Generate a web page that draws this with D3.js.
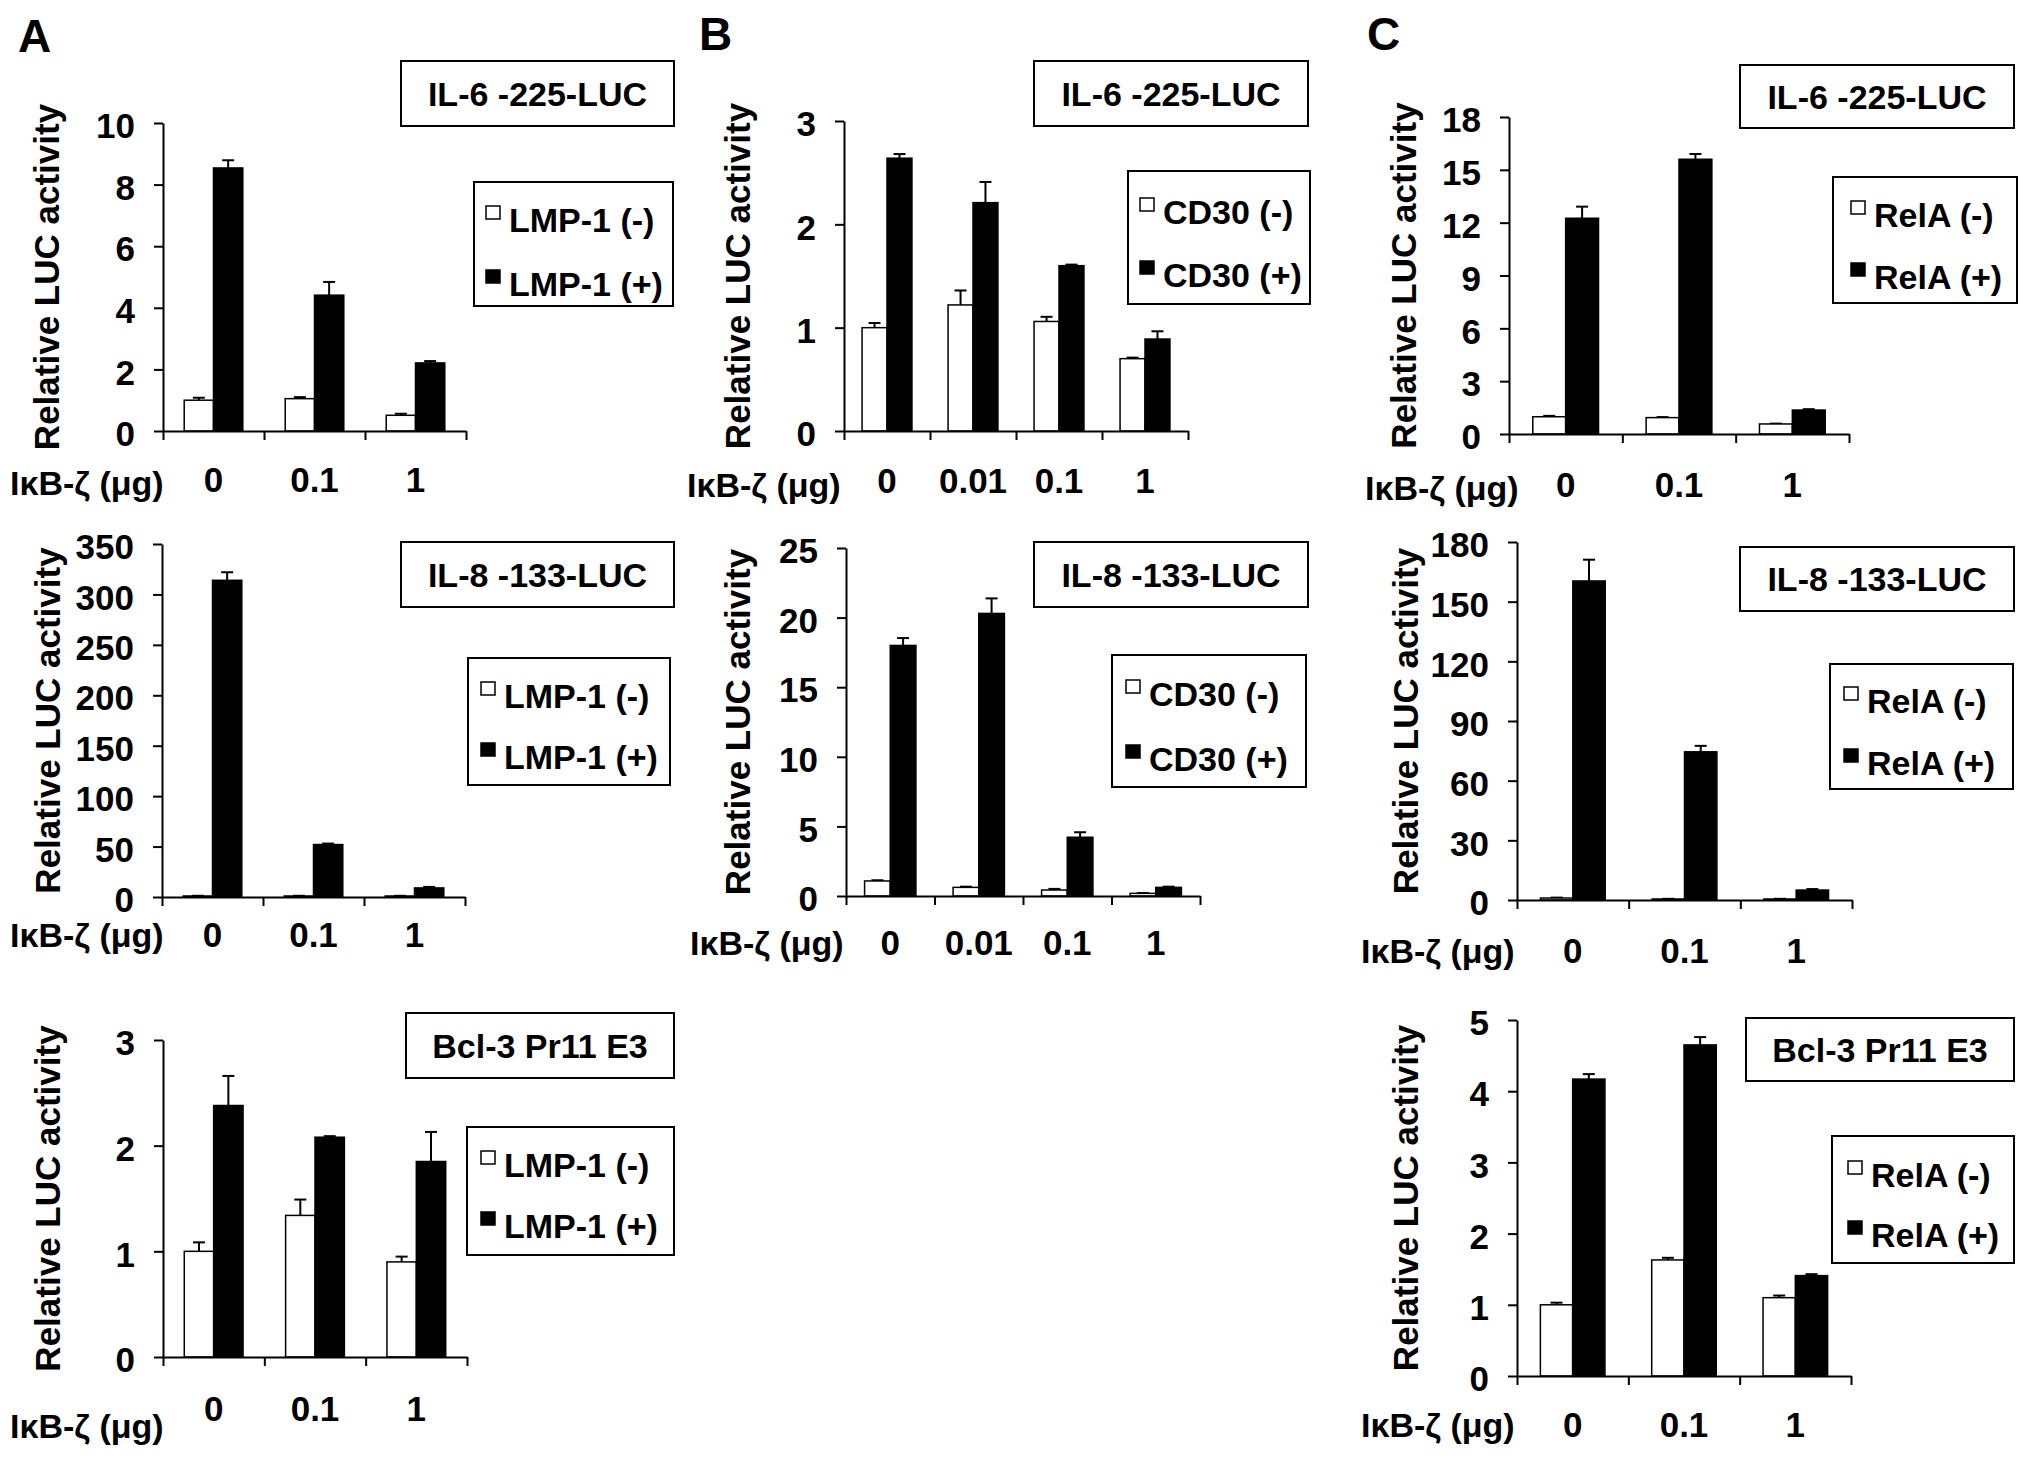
<!DOCTYPE html>
<html>
<head>
<meta charset="utf-8">
<script src="https://cdn.jsdelivr.net/npm/d3@7"></script>
<style>
  html, body { margin: 0; padding: 0; background: #fff; }
  svg { display: block; }
  text { font-family: "Liberation Sans", Arial, Helvetica, sans-serif; font-weight: bold; fill: #000; }
</style>
</head>
<body>
<svg id="fig" width="2031" height="1461"></svg>
<script>
// ---- data ----
const doses3 = ["0", "0.1", "1"];
const doses4 = ["0", "0.01", "0.1", "1"];
const xTitle = "IκB-ζ (μg)";
const yTitle = "Relative LUC activity";

// A: LMP-1
const aIl6Neg = [1.0, 1.05, 0.51],   aIl6NegErr = [0.08, 0.05, 0.05];
const aIl6Pos = [8.54, 4.41, 2.21],  aIl6PosErr = [0.25, 0.43, 0.06];
const aIl8Neg = [1.0, 1.0, 1.0],     aIl8NegErr = [0.2, 0.2, 0.2];
const aIl8Pos = [314, 52, 9],        aIl8PosErr = [8, 1, 1];
const aBclNeg = [1.0, 1.34, 0.90],   aBclNegErr = [0.085, 0.15, 0.05];
const aBclPos = [2.38, 2.08, 1.85],  aBclPosErr = [0.28, 0.01, 0.28];
// B: CD30
const bIl6Neg = [1.0, 1.22, 1.06, 0.70],  bIl6NegErr = [0.045, 0.14, 0.045, 0.01];
const bIl6Pos = [2.64, 2.21, 1.60, 0.89], bIl6PosErr = [0.04, 0.2, 0.01, 0.075];
const bIl8Neg = [1.08, 0.62, 0.43, 0.19], bIl8NegErr = [0.05, 0.05, 0.08, 0.02];
const bIl8Pos = [18.0, 20.3, 4.22, 0.62], bIl8PosErr = [0.53, 1.08, 0.36, 0.05];
// C: RelA
const cIl6Neg = [0.98, 0.93, 0.57],  cIl6NegErr = [0.05, 0.03, 0.02];
const cIl6Pos = [12.25, 15.6, 1.36], cIl6PosErr = [0.66, 0.3, 0.05];
const cIl8Neg = [1.0, 0.5, 0.5],     cIl8NegErr = [0.2, 0.1, 0.1];
const cIl8Pos = [160.4, 74.5, 5],    cIl8PosErr = [10.7, 3, 0.5];
const cBclNeg = [1.0, 1.63, 1.10],   cBclNegErr = [0.03, 0.03, 0.03];
const cBclPos = [4.17, 4.65, 1.41],  cBclPosErr = [0.07, 0.11, 0.02];

// tick labels
const ticksA1 = [0, 2, 4, 6, 8, 10];
const ticksA2 = [0, 50, 100, 150, 200, 250, 300, 350];
const ticks3  = [0, 1, 2, 3];
const ticksB2 = [0, 5, 10, 15, 20, 25];
const ticksC1 = [0, 3, 6, 9, 12, 15, 18];
const ticksC2 = [0, 30, 60, 90, 120, 150, 180];
const ticksC3 = [0, 1, 2, 3, 4, 5];

const panelLetters = [["A", 18, 52], ["B", 699, 50], ["C", 1367, 50]];

// ---- layout ----
const panels = [
  { title: "IL-6 -225-LUC", factor: "LMP-1", doses: doses3, neg: aIl6Neg, negErr: aIl6NegErr, pos: aIl6Pos, posErr: aIl6PosErr, ticks: ticksA1,
    ax: [163, 466], ay: [123, 431], box: [401, 61, 273, 65], leg: [474, 182, 199, 124], legX: 509, legY: [232, 296], yt: 59, lb: 492, xtx: 10, xtb: 495 },
  { title: "IL-8 -133-LUC", factor: "LMP-1", doses: doses3, neg: aIl8Neg, negErr: aIl8NegErr, pos: aIl8Pos, posErr: aIl8PosErr, ticks: ticksA2,
    ax: [162, 465], ay: [544, 897], box: [401, 542, 273, 65], leg: [468, 658, 202, 127], legX: 504, legY: [708, 769], yt: 60, lb: 947, xtx: 10, xtb: 947 },
  { title: "Bcl-3 Pr11 E3", factor: "LMP-1", doses: doses3, neg: aBclNeg, negErr: aBclNegErr, pos: aBclPos, posErr: aBclPosErr, ticks: ticks3,
    ax: [163, 467], ay: [1040, 1357], box: [406, 1013, 268, 65], leg: [467, 1127, 207, 128], legX: 504, legY: [1177, 1238], yt: 60, lb: 1421, xtx: 10, xtb: 1438 },
  { title: "IL-6 -225-LUC", factor: "CD30", doses: doses4, neg: bIl6Neg, negErr: bIl6NegErr, pos: bIl6Pos, posErr: bIl6PosErr, ticks: ticks3,
    ax: [844, 1188], ay: [121, 431], box: [1034, 61, 274, 65], leg: [1128, 171, 182, 133], legX: 1163, legY: [224, 287], yt: 750, lb: 493, xtx: 687, xtb: 497 },
  { title: "IL-8 -133-LUC", factor: "CD30", doses: doses4, neg: bIl8Neg, negErr: bIl8NegErr, pos: bIl8Pos, posErr: bIl8PosErr, ticks: ticksB2,
    ax: [846, 1200], ay: [548, 896], box: [1034, 542, 274, 65], leg: [1112, 655, 194, 132], legX: 1149, legY: [706, 771], yt: 750, lb: 955, xtx: 690, xtb: 955 },
  { title: "IL-6 -225-LUC", factor: "RelA", doses: doses3, neg: cIl6Neg, negErr: cIl6NegErr, pos: cIl6Pos, posErr: cIl6PosErr, ticks: ticksC1,
    ax: [1509, 1849], ay: [117, 434], box: [1740, 65, 274, 63], leg: [1833, 177, 184, 126], legX: 1874, legY: [227, 289], yt: 1416, lb: 497, xtx: 1365, xtb: 500 },
  { title: "IL-8 -133-LUC", factor: "RelA", doses: doses3, neg: cIl8Neg, negErr: cIl8NegErr, pos: cIl8Pos, posErr: cIl8PosErr, ticks: ticksC2,
    ax: [1517, 1852], ay: [542, 900], box: [1740, 547, 274, 64], leg: [1830, 664, 183, 125], legX: 1867, legY: [713, 775], yt: 1418, lb: 963, xtx: 1361, xtb: 963 },
  { title: "Bcl-3 Pr11 E3", factor: "RelA", doses: doses3, neg: cBclNeg, negErr: cBclNegErr, pos: cBclPos, posErr: cBclPosErr, ticks: ticksC3,
    ax: [1517, 1851], ay: [1020, 1376], box: [1746, 1018, 268, 63], leg: [1832, 1136, 182, 127], legX: 1871, legY: [1187, 1247], yt: 1418, lb: 1437, xtx: 1361, xtb: 1437 }
];

const svg = d3.select("#fig");
const FS = 34;
const TICK_FS = 35;

panelLetters.forEach(([t, x, y]) => {
  svg.append("text").attr("x", x).attr("y", y).attr("font-size", 46).text(t);
});

panels.forEach(p => {
  const g = svg.append("g");
  const x = d3.scaleBand().domain(p.doses).range(p.ax).padding(0);
  const bw = x.bandwidth();
  const sub = d3.scaleBand().domain(["neg", "pos"]).range([0.21 * bw, 0.79 * bw]);
  const y = d3.scaleLinear().domain([0, d3.max(p.ticks)]).range([p.ay[1], p.ay[0]]);

  const rows = p.doses.map((d, i) => [
    { dose: d, s: "neg", v: p.neg[i], e: p.negErr[i] },
    { dose: d, s: "pos", v: p.pos[i], e: p.posErr[i] }
  ]).flat();

  // error bars (upper only)
  const eg = g.append("g").attr("stroke", "#000").attr("stroke-width", 2);
  rows.forEach(r => {
    const cx = x(r.dose) + sub(r.s) + sub.bandwidth() / 2;
    eg.append("line").attr("x1", cx).attr("x2", cx).attr("y1", y(r.v)).attr("y2", y(r.v + r.e));
    eg.append("line").attr("x1", cx - 6).attr("x2", cx + 6).attr("y1", y(r.v + r.e)).attr("y2", y(r.v + r.e));
  });

  g.selectAll("rect.bar").data(rows).join("rect")
    .attr("class", "bar")
    .attr("x", r => x(r.dose) + sub(r.s))
    .attr("width", sub.bandwidth())
    .attr("y", r => y(r.v))
    .attr("height", r => y(0) - y(r.v))
    .attr("fill", r => r.s === "neg" ? "#fff" : "#000")
    .attr("stroke", "#000").attr("stroke-width", 1.5);

  // y axis
  const yAxis = g.append("g").attr("transform", `translate(${p.ax[0]},0)`)
    .call(d3.axisLeft(y).tickValues(p.ticks).tickSize(9).tickSizeOuter(0).tickPadding(19).tickFormat(d3.format("d")));
  yAxis.select(".domain").attr("stroke-width", 2);
  yAxis.selectAll(".tick line").attr("stroke-width", 2);
  yAxis.selectAll(".tick text").attr("font-size", TICK_FS).attr("font-family", null).attr("dy", "0.42em");

  // x axis: ticks at group boundaries
  const xb = d3.scaleLinear().domain([0, p.doses.length]).range(p.ax);
  const xAxis = g.append("g").attr("transform", `translate(0,${p.ay[1]})`)
    .call(d3.axisBottom(xb).tickValues(d3.range(p.doses.length + 1)).tickSize(9).tickSizeOuter(0).tickFormat(""));
  xAxis.select(".domain").attr("stroke-width", 2);
  xAxis.selectAll(".tick line").attr("stroke-width", 2);

  // category labels
  g.selectAll("text.cat").data(p.doses).join("text")
    .attr("class", "cat")
    .attr("x", d => x(d) + bw / 2).attr("y", p.lb)
    .attr("text-anchor", "middle").attr("font-size", TICK_FS)
    .text(d => d);
  g.append("text").attr("x", p.xtx).attr("y", p.xtb).attr("font-size", FS).text(xTitle);

  // y title
  g.append("text")
    .attr("transform", `translate(${p.yt},${(p.ay[0] + p.ay[1]) / 2}) rotate(-90)`)
    .attr("text-anchor", "middle").attr("font-size", 35).text(yTitle);

  // title box
  const [bx, by, bwid, bh] = p.box;
  g.append("rect").attr("x", bx).attr("y", by).attr("width", bwid).attr("height", bh)
    .attr("fill", "#fff").attr("stroke", "#000").attr("stroke-width", 2);
  g.append("text").attr("x", bx + bwid / 2).attr("y", by + bh / 2 + 12)
    .attr("text-anchor", "middle").attr("font-size", FS).text(p.title);

  // legend
  const [lx, ly, lw, lh] = p.leg;
  g.append("rect").attr("x", lx).attr("y", ly).attr("width", lw).attr("height", lh)
    .attr("fill", "#fff").attr("stroke", "#000").attr("stroke-width", 2);
  [["neg", "(-)"], ["pos", "(+)"]].forEach(([s, sign], i) => {
    const base = p.legY[i];
    g.append("rect").attr("x", p.legX - 23).attr("y", base - 26).attr("width", 14).attr("height", 13)
      .attr("fill", s === "neg" ? "#fff" : "#000").attr("stroke", "#000").attr("stroke-width", 1.5);
    g.append("text").attr("x", p.legX).attr("y", base).attr("font-size", FS).text(`${p.factor} ${sign}`);
  });
});
</script>
</body>
</html>
